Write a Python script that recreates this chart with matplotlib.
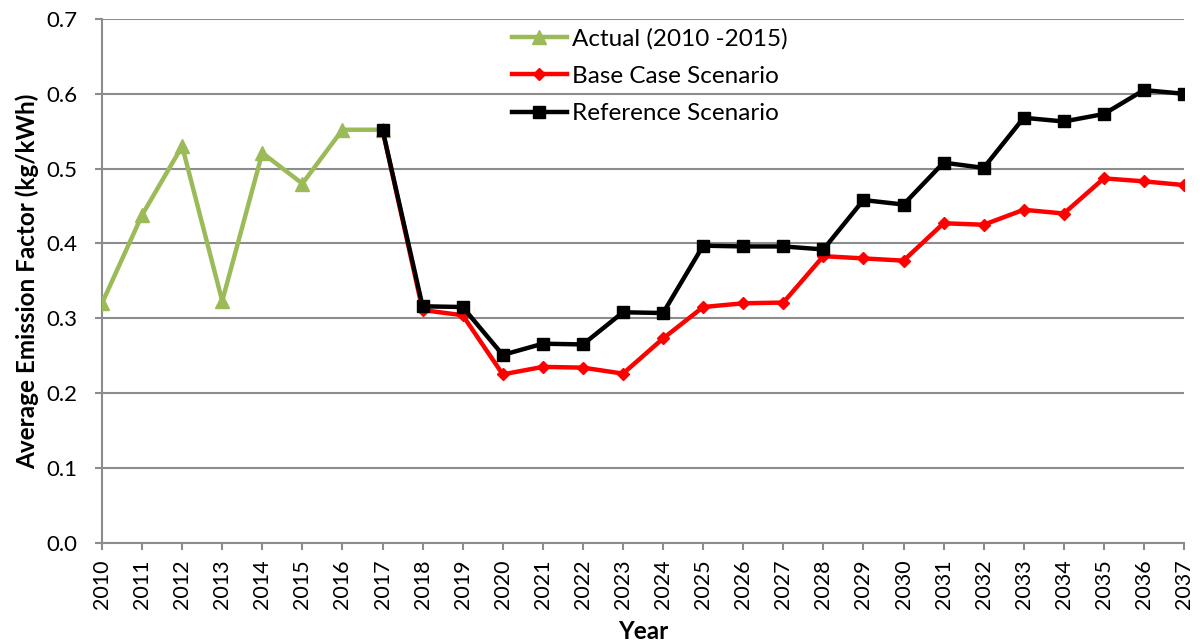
import matplotlib
matplotlib.use("Agg")
import matplotlib.pyplot as plt

years = list(range(2010, 2038))

actual_years = list(range(2010, 2018))
actual = [0.320, 0.438, 0.530, 0.323, 0.521, 0.480, 0.552, 0.552]

scen_years = list(range(2017, 2038))
base_case = [0.552, 0.311, 0.304, 0.225, 0.235, 0.234, 0.226, 0.273, 0.315,
             0.320, 0.321, 0.383, 0.380, 0.377, 0.427, 0.425, 0.445, 0.440,
             0.487, 0.483, 0.478]
reference = [0.552, 0.316, 0.315, 0.251, 0.266, 0.265, 0.308, 0.307, 0.397,
             0.396, 0.396, 0.392, 0.458, 0.452, 0.508, 0.501, 0.568, 0.563,
             0.573, 0.605, 0.600]

yticks = [0.0, 0.1, 0.2, 0.3, 0.4, 0.5, 0.6, 0.7]

plt.rcParams['font.family'] = ['Lato', 'DejaVu Sans']

fig = plt.figure(figsize=(12, 6.44), dpi=100)
ax = fig.add_axes([0.085, 0.1573, 0.9017, 0.8132])

grid_c = '#8c8c8c'
ax.plot(actual_years, actual, color='#9BBB59', lw=3.2, marker='^', ms=10,
        label='Actual (2010 -2015)', zorder=3)
ax.plot(scen_years, base_case, color='#FF0000', lw=3.2, marker='D', ms=6,
        label='Base Case Scenario', zorder=4)
ax.plot(scen_years, reference, color='black', lw=3.2, marker='s', ms=9,
        label='Reference Scenario', zorder=5)

ax.set_xlim(2010, 2037)
ax.set_ylim(0, 0.7)
ax.set_xticks(years)
ax.set_xticklabels([str(y) for y in years], rotation=90, fontsize=15.5)
ax.set_yticks(yticks)
ax.set_yticklabels([f'{v:.1f}' for v in yticks], fontsize=16)

ax.yaxis.grid(True, color=grid_c, lw=1.5)
ax.set_axisbelow(True)
for s in ['top', 'right']:
    ax.spines[s].set_visible(False)
for s in ['left', 'bottom']:
    ax.spines[s].set_color(grid_c)
    ax.spines[s].set_linewidth(1.5)
ax.tick_params(axis='both', color=grid_c, width=1.5, length=5)
ax.tick_params(axis='x', pad=7)
ax.tick_params(axis='y', pad=13)

ax.set_ylabel('Average Emission Factor (kg/kWh)', fontsize=17.5,
              fontweight='bold', labelpad=5)
ax.set_xlabel('Year', fontsize=17.5, fontweight='bold', labelpad=8)

leg = ax.legend(loc='upper left', bbox_to_anchor=(0.379, 0.982), frameon=False,
                fontsize=17.5, handlelength=2.25, handletextpad=0.2,
                labelspacing=0.66, borderpad=0, borderaxespad=0)

fig.savefig('out.png', dpi=100)
